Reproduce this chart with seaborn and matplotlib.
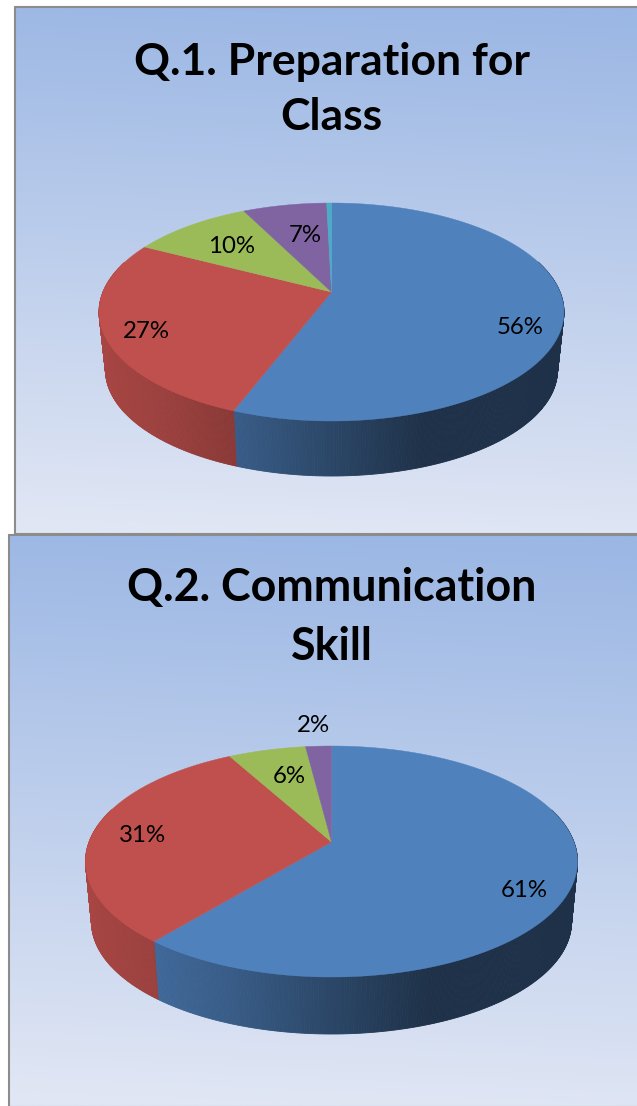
import numpy as np
import matplotlib
matplotlib.use("Agg")
import matplotlib.pyplot as plt
import seaborn as sns

# Data
q1_values = [56, 27, 10, 7, 0.4]
q2_values = [61, 31, 6, 2]
q1_labels = ["56%", "27%", "10%", "7%"]
q2_labels = ["61%", "31%", "6%", "2%"]
q1_title = "Q.1. Preparation for\nClass"
q2_title = "Q.2. Communication\nSkill"

colors = sns.color_palette(["#4F81BD", "#C0504D", "#9BBB59", "#8064A2", "#4BACC6"])

W, H = 637, 1106
sns.set_theme(style="white")
plt.rcParams["font.family"] = ["Lato", "DejaVu Sans"]

fig = plt.figure(figsize=(W / 100, H / 100), dpi=100)
ax = fig.add_axes([0, 0, 1, 1])
ax.set_xlim(0, W)
ax.set_ylim(H, 0)
ax.axis("off")


def draw_panel(x0, y0, y1):
    # blue to pale gradient, slightly tilted
    xx, yy = np.meshgrid(np.linspace(0, 1, 200), np.linspace(0, 1, 300))
    t = np.clip(yy + 0.05 * (1 - xx) - 0.02, 0, 1)[..., None]
    top = np.array([155, 183, 228]) / 255
    bottom = np.array([224, 230, 244]) / 255
    ax.imshow(top + (bottom - top) * t, extent=(x0, W, y1, y0), aspect="auto", zorder=1)
    ax.plot([W, x0, x0], [y0, y0, y1], color="#8C8C8C", lw=1.5, zorder=2,
            solid_joinstyle="miter")
    ax.plot([x0, W], [y1, y1], color="#8C8C8C", lw=1.5, zorder=2)


def draw_pie(values, cx, cy, rx, ry, apex_off, base_cy, base_rx, base_ry):
    # tilted disc: circle seen in perspective so the apex sits above the ellipse centre
    k = apex_off / ry
    a = np.sqrt(1 - k ** 2)

    def top_pt(th):
        s, c = np.sin(th), np.cos(th)
        d = 1 + k * c
        return cx + rx * a * s / d, cy - (ry * c + apex_off) / d

    def base_pt(th):
        s, c = np.sin(th), np.cos(th)
        d = 1 + k * c
        return cx + base_rx * a * s / d, base_cy - (base_ry * c + apex_off * base_ry / ry) / d

    shares = np.array(values, dtype=float)
    edges = np.concatenate([[0], np.cumsum(shares) / shares.sum()]) * 2 * np.pi

    # side wall, only the front part shows
    for i in range(len(values)):
        ths = np.arange(edges[i], edges[i + 1], np.radians(0.5))
        ths = np.append(ths, edges[i + 1])
        for t0, t1 in zip(ths[:-1], ths[1:]):
            if np.cos((t0 + t1) / 2) > 0.3:
                continue
            xt0, yt0 = top_pt(t0)
            xt1, yt1 = top_pt(t1)
            xb0, yb0 = base_pt(t0)
            xb1, yb1 = base_pt(t1)
            u = ((xt0 + xt1) / 2 - cx) / rx
            f = np.interp(u, [-1, -0.7, -0.43, 0.4, 1], [0.87, 0.8, 0.72, 0.38, 0.38])
            c = tuple(np.array(colors[i]) * f)
            ax.fill([xt0, xt1, xb1, xb0], [yt0, yt1, yb1, yb0], color=c, lw=0.6, zorder=3)

    # top face
    for i in range(len(values)):
        ths = np.linspace(edges[i], edges[i + 1], 200)
        xs, ys = top_pt(ths)
        ax.fill(np.r_[cx, xs], np.r_[cy - apex_off, ys], color=colors[i], lw=0.3, zorder=4)


draw_panel(15, 7, 533.5)
draw_panel(9, 534.5, 1107)

draw_pie(q1_values, 331.5, 312, 232.5, 109, 20, 370, 226, 106)
draw_pie(q2_values, 331.5, 861.5, 246, 115.5, 19.5, 922, 240, 112)

# titles
ax.text(331.5, 89.5, q1_title, ha="center", va="center", fontsize=32, fontweight="bold",
        color="black", linespacing=1.46, zorder=6)
ax.text(331.5, 617.5, q2_title, ha="center", va="center", fontsize=32.2, fontweight="bold",
        color="black", linespacing=1.5, zorder=6)

# slice labels
q1_label_xy = [(520, 327.5), (146, 332), (232, 246.5), (305, 235.5)]
q2_label_xy = [(524, 890.5), (142, 835.5), (289, 776.5), (313, 725.5)]
for txt, (x, y) in zip(q1_labels + q2_labels, q1_label_xy + q2_label_xy):
    ax.text(x, y, txt, ha="center", va="center", fontsize=17.3, color="black", zorder=6)

fig.savefig("out.png", dpi=100, facecolor="white")
